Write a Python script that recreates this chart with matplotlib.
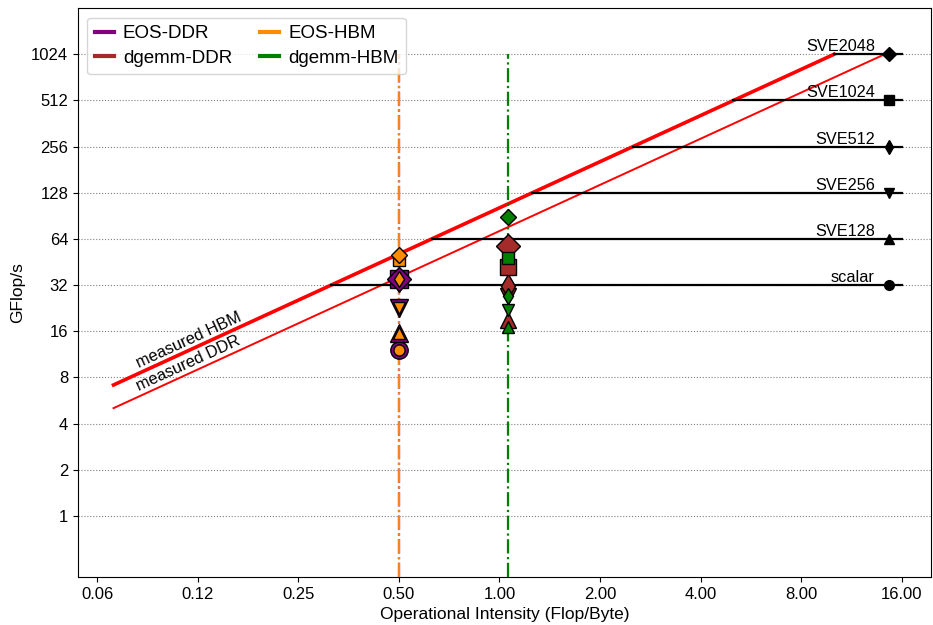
import numpy as np
import matplotlib.pyplot as plt
from matplotlib.lines import Line2D

plt.rcParams['font.family'] = ['Liberation Sans', 'DejaVu Sans']

# peak performance per vector width (GFlop/s)
peak_names = ['scalar', 'SVE128', 'SVE256', 'SVE512', 'SVE1024', 'SVE2048']
peak_vals = [32, 64, 128, 256, 512, 1024]
peak_markers = ['o', '^', 'v', 'd', 's', 'D']

# measured bandwidths (GB/s)
bw_hbm = 102
bw_ddr = 72

# operational intensity of the two kernels
oi_eos = 0.5
oi_dgemm = 1.06

# measured performance, same order as peak_names (None = not shown)
eos_ddr = [12.1, 15.6, 22.8, 34.5, 34.8, 35.0]
eos_hbm = [12.1, 15.6, 22.8, 35.3, 46.3, 50.5]
dgemm_ddr = [None, 19.0, 27.0, 31.5, 41.7, 57.5]
dgemm_hbm = [None, 17.0, 22.0, 27.0, 47.7, 89.6]

xticks = [0.0625, 0.125, 0.25, 0.5, 1, 2, 4, 8, 16]
yticks = [1, 2, 4, 8, 16, 32, 64, 128, 256, 512, 1024]

fig = plt.figure(figsize=(9.33, 6.25), dpi=100)
ax = fig.add_axes([0.0836, 0.077, 0.9144, 0.91])
ax.set_xscale('log', base=2)
ax.set_yscale('log', base=2)
ax.set_xlim(0.0548, 19.6)
ax.set_ylim(0.4, 2048)

# grid on y only
for yt in yticks:
    ax.axhline(yt, color='gray', linestyle=':', linewidth=0.8, zorder=0)

# rooflines
x0 = 0.07
ax.plot([x0, peak_vals[-1] / bw_hbm], [bw_hbm * x0, peak_vals[-1]], color='red', lw=2.6, zorder=2)
ax.plot([x0, peak_vals[-1] / bw_ddr], [bw_ddr * x0, peak_vals[-1]], color='red', lw=1.4, zorder=2)

# angle of the roofline on screen
p1 = ax.transData.transform((0.1, 0.1 * bw_hbm))
p2 = ax.transData.transform((1.0, 1.0 * bw_hbm))
ang = np.degrees(np.arctan2(p2[1] - p1[1], p2[0] - p1[0]))
ax.text(0.084, 0.084 * bw_hbm * 1.03, 'measured HBM', rotation=ang, rotation_mode='anchor',
        ha='left', va='bottom', fontsize=11.8)
ax.text(0.084, 0.084 * bw_ddr * 1.03, 'measured DDR', rotation=ang, rotation_mode='anchor',
        ha='left', va='bottom', fontsize=11.8)

# compute ceilings
x_end = 16
x_mark = 14.7
for name, pk, mk in zip(peak_names, peak_vals, peak_markers):
    ax.plot([pk / bw_hbm, x_end], [pk, pk], color='black', lw=1.6, zorder=2)
    ax.plot([x_mark], [pk], marker=mk, color='black', markersize=7, zorder=3)
    ax.text(13.3, pk * 1.0, name, ha='right', va='bottom', fontsize=11.7)

# kernel lines
ax.plot([oi_eos, oi_eos], [0.4, 1024], color='purple', lw=1.6, linestyle='-.', zorder=3)
ax.plot([oi_eos, oi_eos], [0.4, 1024], color='#f5841f', lw=1.6, linestyle='-.', zorder=3)
ax.plot([oi_dgemm, oi_dgemm], [0.4, 1024], color='green', lw=1.6, linestyle='-.', zorder=3)

# measured points
def draw_points(oi, vals, color, size):
    for v, mk in zip(vals, peak_markers):
        if v is None:
            continue
        ax.plot([oi], [v], marker=mk, markersize=size, markerfacecolor=color,
                markeredgecolor='black', markeredgewidth=1.0, linestyle='none', zorder=4)

draw_points(oi_eos, eos_ddr, 'purple', 12.5)
draw_points(oi_eos, eos_hbm, 'darkorange', 8)
draw_points(oi_dgemm, dgemm_ddr, 'brown', 12)
draw_points(oi_dgemm, dgemm_hbm, 'green', 8)

ax.set_xticks(xticks)
ax.set_xticklabels(['%.2f' % x for x in xticks])
ax.set_yticks(yticks)
ax.set_yticklabels([str(y) for y in yticks])
ax.minorticks_off()
ax.tick_params(labelsize=12)
ax.set_xlabel('Operational Intensity (Flop/Byte)', fontsize=12.5)
ax.set_ylabel('GFlop/s', fontsize=12.5)

handles = [Line2D([], [], color='purple', lw=3),
           Line2D([], [], color='brown', lw=3),
           Line2D([], [], color='darkorange', lw=3),
           Line2D([], [], color='green', lw=3)]
labels = ['EOS-DDR', 'dgemm-DDR', 'EOS-HBM', 'dgemm-HBM']
ax.legend(handles, labels, loc='upper left', ncol=2, fontsize=13.5,
          handlelength=1.0, handletextpad=0.5, columnspacing=1.5, labelspacing=0.4,
          borderaxespad=0.5, borderpad=0.4)

fig.savefig('out.png', dpi=100)
